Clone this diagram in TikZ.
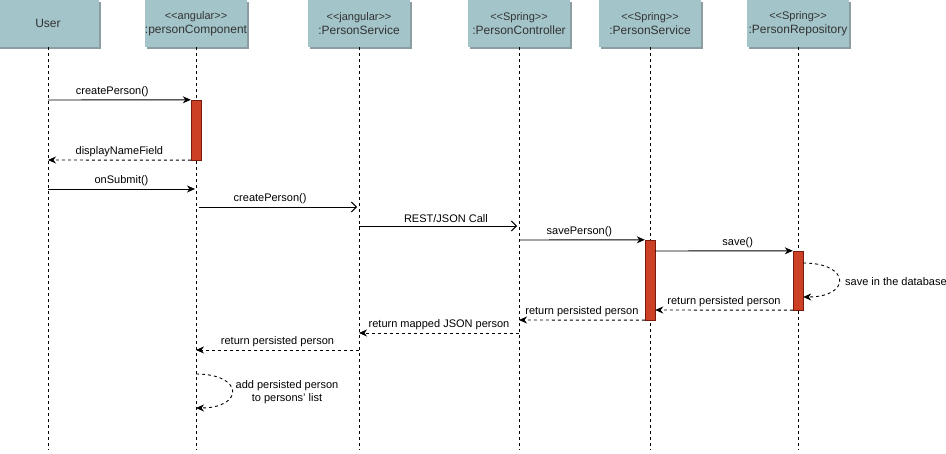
\documentclass[tikz,border=0pt]{standalone}
\usepackage{fontspec}
\setmainfont{Liberation Sans}
\usetikzlibrary{arrows.meta, shadows}
\definecolor{headfill}{HTML}{A3C4C9}
\definecolor{headshadow}{HTML}{8C9EA1}
\definecolor{actfill}{HTML}{CC4125}
\definecolor{actline}{HTML}{7A1A0C}
\definecolor{textgray}{HTML}{333333}
\begin{document}
\begin{tikzpicture}[x=1pt, y=-1pt,
      >={Stealth[length=8pt,width=7pt,inset=2.5pt]},
      head/.style={
        fill=headfill,
        draw=none,
        minimum width=102pt,
        minimum height=47pt,
        inner sep=0pt,
        align=center,
        text=textgray,
        font=\fontsize{12}{14}\selectfont,
        drop shadow={shadow xshift=2pt, shadow yshift=-2pt, fill=headshadow, opacity=1}
      },
      lifeline/.style={
        dash pattern=on 3pt off 3pt,
        line width=0.8pt
      },
      act/.style={
        fill=actfill,
        draw=actline,
        minimum width=10pt,
        inner sep=0pt
      },
      msg/.style={
        ->,
        line width=0.9pt
      },
      async/.style={
        -{Straight Barb[length=5pt,width=10pt]},
        line width=0.9pt
      },
      ret/.style={
        ->,
        line width=0.9pt,
        dash pattern=on 3pt off 3pt
      },
      lbl/.style={
        font=\fontsize{11}{13}\selectfont,
        text=black,
        inner sep=3pt
      },
    ]
    \useasboundingbox (0, 0) rectangle (946, 454);

    \node [head] (user) at (48, 23.5) {User};
    \node [head] (comp) at (196, 23.5)
          {{\fontsize{11}{13}\selectfont <{}<angular>{}>}\\:personComponent};
    \node [head] (ngsvc) at (359, 23.5)
          {{\fontsize{11}{13}\selectfont <{}<jangular>{}>}\\:PersonService};
    \node [head] (ctrl) at (519, 23.5)
          {{\fontsize{11}{13}\selectfont <{}<Spring>{}>}\\:PersonController};
    \node [head] (svc) at (650, 23.5)
          {{\fontsize{11}{13}\selectfont <{}<Spring>{}>}\\:PersonService};
    \node [head] (repo) at (798, 23.5)
          {{\fontsize{11}{13}\selectfont <{}<Spring>{}>}\\:PersonRepository};

    \foreach \n in {user, comp, ngsvc, ctrl, svc, repo}
      \draw [lifeline] (\n.south) -- (\n.south |- 0, 450);

    \node [act, minimum height=60pt] (actA) at (196, 130) {};
    \node [act, minimum height=80pt] (actB) at (650, 280) {};
    \node [act, minimum height=59pt] (actC) at (798, 280.5) {};

    \coordinate (u1) at (48, 100);
    \coordinate (u2) at (48, 160);
    \coordinate (u3) at (48, 189);
    \coordinate (c3) at (195, 189);
    \coordinate (c4) at (199, 207);
    \coordinate (n4) at (357, 207);
    \coordinate (n5) at (359, 226);
    \coordinate (t5) at (517, 226);
    \coordinate (t6) at (519, 240);
    \coordinate (t9) at (519, 320);
    \coordinate (t10) at (519, 333);
    \coordinate (n10) at (359, 333);
    \coordinate (n11) at (359, 350);
    \coordinate (c11) at (196, 350);
    \coordinate (c12) at (196, 374);
    \coordinate (c13) at (196, 408);

    \draw [msg] (u1) -- (actA.north west)
          node [lbl, pos=0.45, above] {createPerson()};
    \draw [ret] (actA.south west) -- (u2)
          node [lbl, pos=0.5, above] {displayNameField};
    \draw [msg] (u3) -- (c3)
          node [lbl, pos=0.5, above] {onSubmit()};
    \draw [async] (c4) -- (n4)
          node [lbl, pos=0.45, above] {createPerson()};
    \draw [async] (n5) -- (t5)
          node [lbl, pos=0.55, above] {REST/JSON Call};
    \draw [msg] (t6) -- (actB.north west)
          node [lbl, pos=0.48, above] {savePerson()};
    \draw [msg] (actB.north east |- 0, 251) -- (actC.north west)
          node [lbl, pos=0.6, above] {save()};
    \draw [ret] (actC.east |- 0, 263) .. controls (851, 263) and (851, 297)
          .. (actC.east |- 0, 297);
    \node [lbl, anchor=west] (dbnote) at (842, 282) {save in the database};
    \draw [ret] (actC.south west) -- (actB.east |- 0, 310)
          node [lbl, pos=0.5, above] {return persisted person};
    \draw [ret] (actB.south west) -- (t9)
          node [lbl, pos=0.5, above] {return persisted person};
    \draw [ret] (t10) -- (n10)
          node [lbl, pos=0.5, above] {return mapped JSON person};
    \draw [ret] (n11) -- (c11)
          node [lbl, pos=0.5, above] {return persisted person};
    \draw [ret] (c12) .. controls (244, 374) and (244, 408) .. (c13);
    \node [lbl, align=center] (listnote) at (287, 392)
          {add persisted person\\to persons' list};
\end{tikzpicture}
\end{document}
